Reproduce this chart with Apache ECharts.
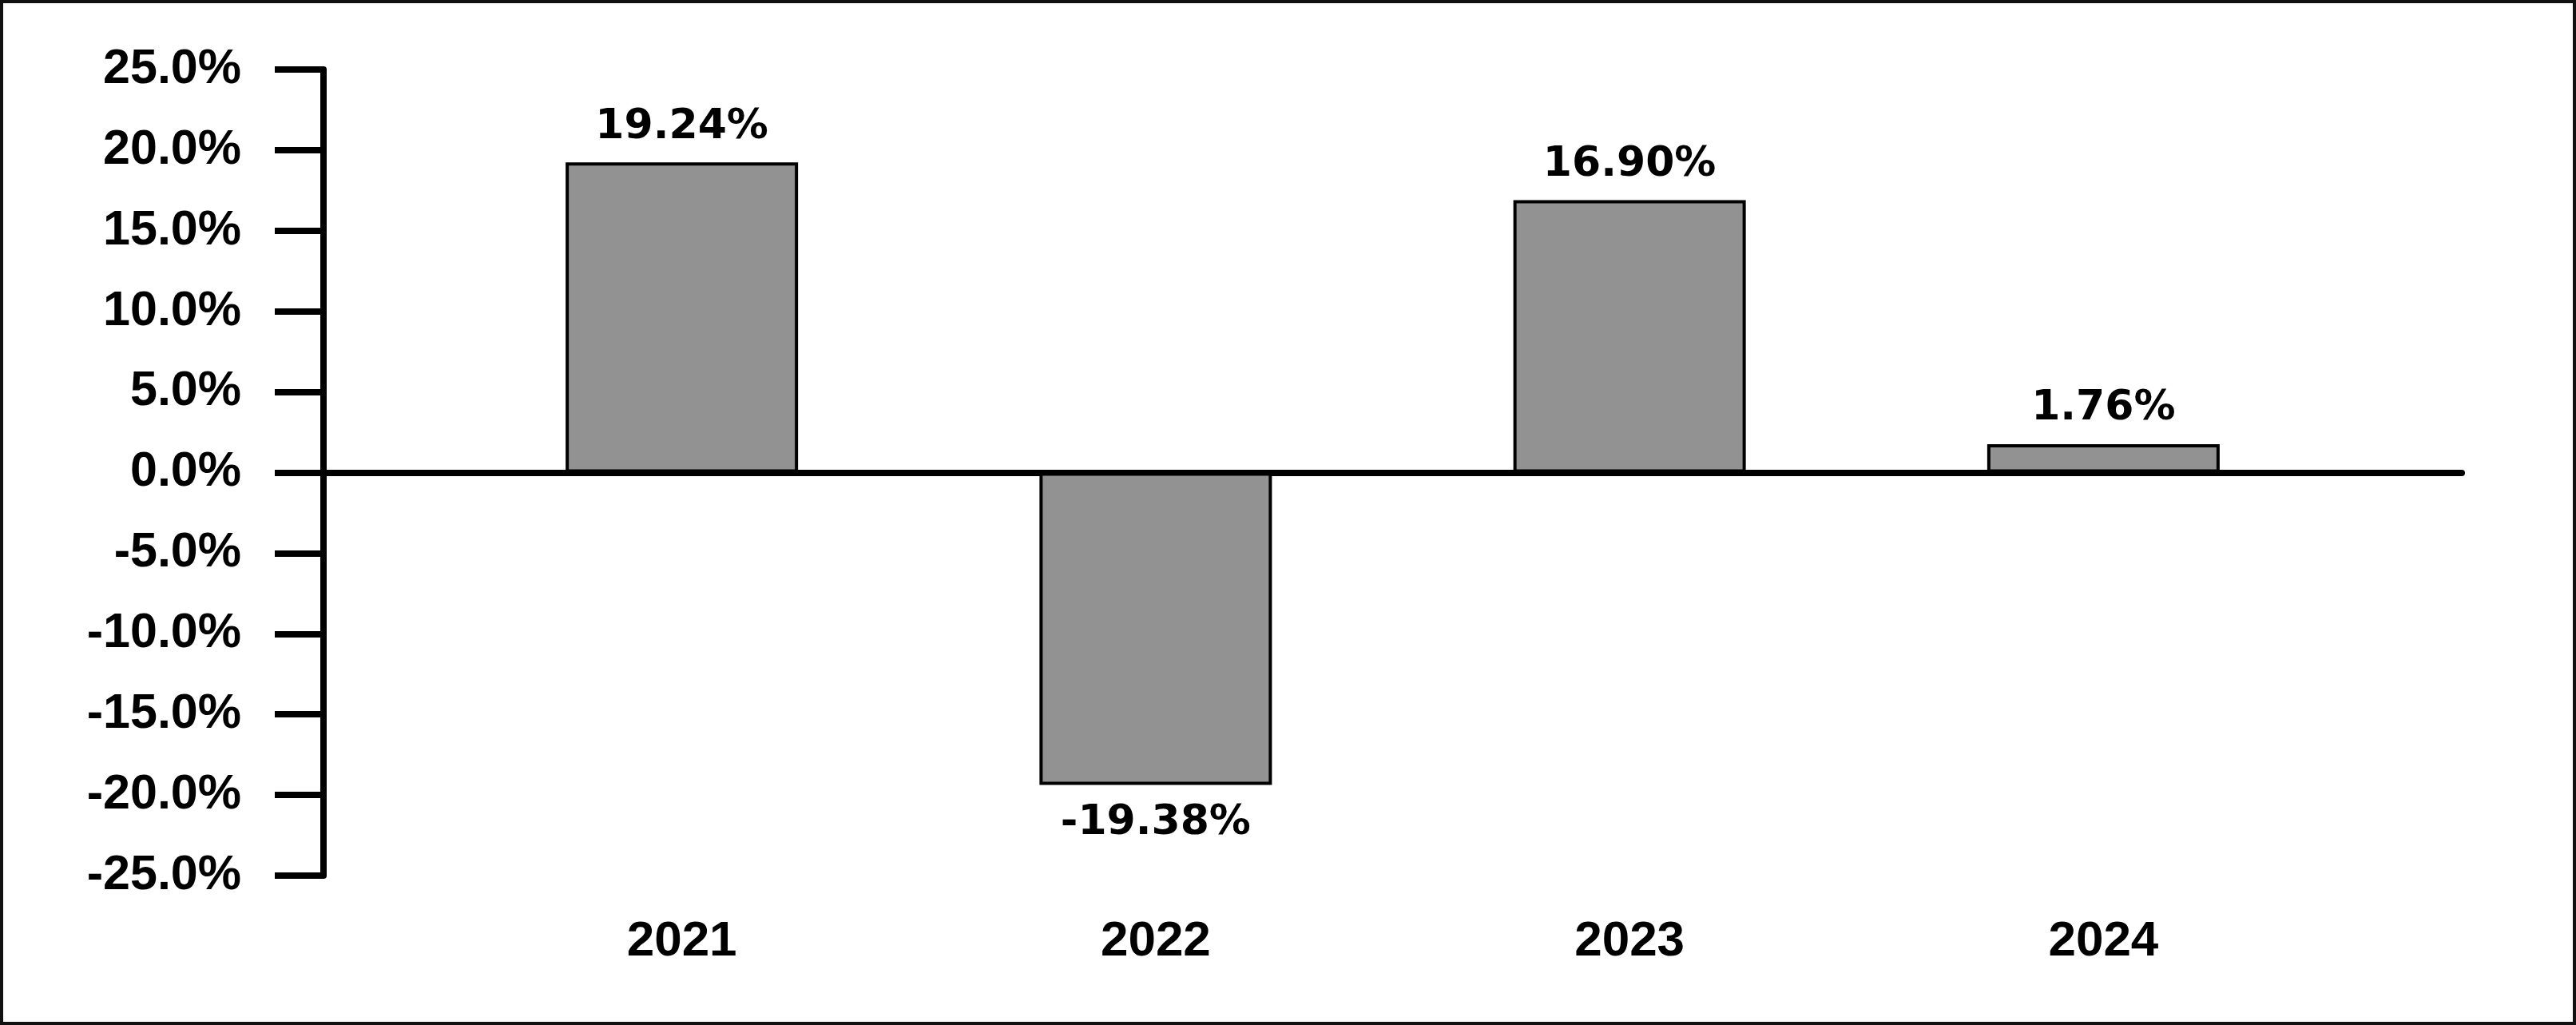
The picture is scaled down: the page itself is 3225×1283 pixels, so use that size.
<!DOCTYPE html>
<html>
<head>
<meta charset="utf-8">
<script src="https://cdn.jsdelivr.net/npm/echarts@6/dist/echarts.min.js"></script>
<style>
html,body{margin:0;padding:0;background:#fff;}
#chart{width:3225px;height:1283px;box-sizing:border-box;border:4px solid #111;}
</style>
</head>
<body>
<div id="chart"></div>
<script>
const categories = ['2021', '2022', '2023', '2024'];
const returns = [19.24, -19.38, 16.90, 1.76];
const yTicks = { min: -25, max: 25, step: 5 };

const chart = echarts.init(document.getElementById('chart'), null, {renderer: 'canvas'});
const axisFont = '"Liberation Sans", Arial, sans-serif';
const labelFont = '"DejaVu Sans", sans-serif';

chart.setOption({
  animation: false,
  backgroundColor: '#fff',
  grid: [
    {left: 553, right: 291, top: 83, bottom: 183},
    {left: 401, right: 139, top: 83, bottom: 183}
  ],
  xAxis: [
    {
      type: 'category', gridIndex: 0, data: categories,
      axisLine: {show: false}, axisTick: {show: false},
      axisLabel: {color: '#000', fontFamily: axisFont, fontWeight: 'bold', fontSize: 62, margin: 52}
    },
    {
      type: 'category', gridIndex: 1, data: categories,
      axisLine: {show: true, onZero: true, lineStyle: {color: '#000', width: 8}},
      axisTick: {show: false}, axisLabel: {show: false}
    }
  ],
  yAxis: [
    {
      type: 'value', gridIndex: 0, min: yTicks.min, max: yTicks.max, interval: yTicks.step,
      offset: 152,
      splitLine: {show: false},
      axisLine: {show: true, lineStyle: {color: '#000', width: 8}},
      axisTick: {show: true, length: 61, lineStyle: {color: '#000', width: 8}},
      axisLabel: {color: '#000', fontFamily: axisFont, fontWeight: 'bold', fontSize: 61, margin: 103,
        formatter: v => v.toFixed(1) + '%'}
    },
    {
      type: 'value', gridIndex: 1, min: yTicks.min, max: yTicks.max, interval: yTicks.step,
      show: false
    }
  ],
  series: [{
    type: 'bar', xAxisIndex: 0, yAxisIndex: 0,
    data: returns.map(v => v < 0 ? {value: v, label: {position: 'bottom', distance: 22}} : v),
    barWidth: 291,
    itemStyle: {color: '#929292', borderColor: '#000', borderWidth: 4},
    label: {
      show: true, position: 'top', distance: 18,
      color: '#000', fontFamily: labelFont, fontWeight: 'bold', fontSize: 52,
      formatter: p => p.value.toFixed(2) + '%'
    }
  }]
});
</script>
</body>
</html>
